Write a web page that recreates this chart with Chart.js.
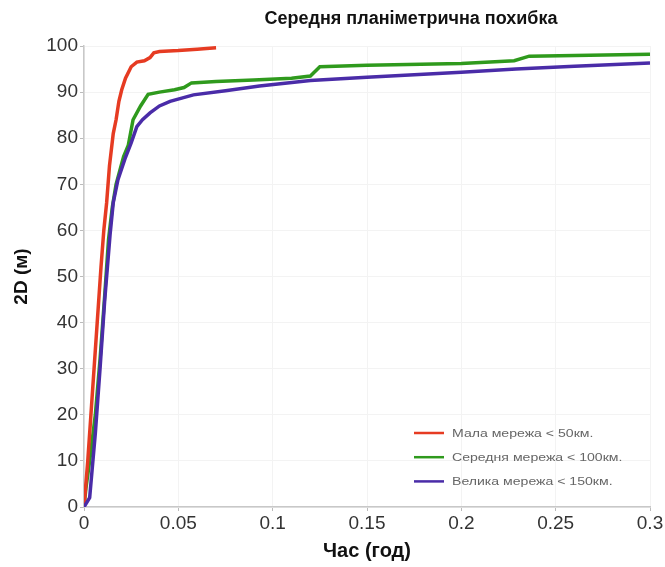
<!DOCTYPE html>
<html>
<head>
<meta charset="utf-8">
<script src="https://cdn.jsdelivr.net/npm/chart.js@4"></script>
<style>
  html, body { margin: 0; padding: 0; background: #fff; }
  #wrap { width: 665px; height: 567px; }
</style>
</head>
<body>
<div id="wrap"><canvas id="c" width="665" height="567"></canvas></div>
<script>
// дані
const seriesNames = ['Мала мережа < 50км.', 'Середня мережа < 100км.', 'Велика мережа < 150км.'];
const seriesColors = ['#e63b22', '#2f9a1d', '#4a2ca8'];

const redX = [0, 0.001, 0.002, 0.004, 0.007, 0.009, 0.0105, 0.012, 0.0135, 0.0155, 0.017, 0.0185, 0.020, 0.022, 0.025, 0.028, 0.032, 0.035, 0.037, 0.040, 0.050, 0.060, 0.070];
const redY = [0, 5, 10, 22, 40, 52, 60, 66, 74, 81, 84, 88, 90.5, 93, 95.5, 96.5, 96.8, 97.5, 98.5, 98.8, 99, 99.3, 99.6];

const greenX = [0, 0.001, 0.003, 0.006, 0.0085, 0.011, 0.013, 0.015, 0.017, 0.019, 0.021, 0.0235, 0.026, 0.030, 0.034, 0.040, 0.048, 0.053, 0.057, 0.070, 0.090, 0.110, 0.120, 0.125, 0.150, 0.200, 0.228, 0.236, 0.300];
const greenY = [0, 4, 10, 20, 32, 46, 58, 65, 70, 73, 76, 78.5, 84, 87, 89.5, 90, 90.5, 91, 92, 92.3, 92.6, 93, 93.5, 95.5, 95.8, 96.2, 96.8, 97.8, 98.2];

const blueX = [0, 0.003, 0.006, 0.0085, 0.011, 0.0138, 0.0155, 0.018, 0.0217, 0.025, 0.028, 0.031, 0.035, 0.040, 0.0456, 0.058, 0.075, 0.093, 0.120, 0.150, 0.200, 0.229, 0.260, 0.300];
const blueY = [0, 2, 16, 30, 45, 59, 66, 71, 75.5, 79, 82.5, 84, 85.5, 87, 88, 89.4, 90.3, 91.3, 92.5, 93.2, 94.3, 95, 95.6, 96.3];

const xTicks = [0, 0.05, 0.1, 0.15, 0.2, 0.25, 0.3];
const yTicks = [0, 10, 20, 30, 40, 50, 60, 70, 80, 90, 100];

function toPoints(xs, ys) {
  return xs.map((x, i) => ({ x: x, y: ys[i] }));
}

// заголовок і легенда всередині області графіка
const extras = {
  id: 'extras',
  afterDraw(chart) {
    const ctx = chart.ctx;
    ctx.save();
    ctx.fillStyle = '#111';
    ctx.font = 'bold 18px "Liberation Sans", Arial, sans-serif';
    ctx.textAlign = 'center';
    ctx.textBaseline = 'middle';
    ctx.fillText('Середня планіметрична похибка', 411, 19);

    ctx.font = '11px "Liberation Sans", Arial, sans-serif';
    ctx.textAlign = 'left';
    seriesNames.forEach((name, i) => {
      const y = 433 + i * 24.2;
      ctx.strokeStyle = seriesColors[i];
      ctx.lineWidth = 2.5;
      ctx.beginPath();
      ctx.moveTo(414, y);
      ctx.lineTo(444, y);
      ctx.stroke();
      ctx.fillStyle = '#666';
      // текст легенди трохи розтягнутий по горизонталі, як на оригіналі
      ctx.save();
      ctx.translate(452, y + 1);
      ctx.scale(1.28, 1);
      ctx.fillText(name, 0, 0);
      ctx.restore();
    });
    ctx.restore();
  }
};

const ctx = document.getElementById('c').getContext('2d');
new Chart(ctx, {
  type: 'line',
  data: {
    datasets: [
      { label: seriesNames[0], data: toPoints(redX, redY), borderColor: seriesColors[0], order: 2 },
      { label: seriesNames[1], data: toPoints(greenX, greenY), borderColor: seriesColors[1], order: 3 },
      { label: seriesNames[2], data: toPoints(blueX, blueY), borderColor: seriesColors[2], order: 1 }
    ]
  },
  options: {
    responsive: false,
    animation: false,
    elements: {
      point: { radius: 0 },
      line: { borderWidth: 3.5, tension: 0, fill: false }
    },
    layout: { padding: { top: 46, right: 15, left: 4, bottom: 4 } },
    plugins: {
      legend: { display: false },
      title: { display: false },
      tooltip: { enabled: false }
    },
    scales: {
      x: {
        type: 'linear',
        min: 0,
        max: 0.3,
        afterBuildTicks: axis => { axis.ticks = xTicks.map(v => ({ value: v })); },
        afterFit: axis => { axis.height = 56; },
        ticks: {
          color: '#333',
          font: { size: 19, family: '"Liberation Sans", Arial, sans-serif' },
          maxRotation: 0,
          padding: 1,
          callback: v => String(v)
        },
        grid: { color: '#f3f3f3', tickColor: '#bbb', tickLength: 4 },
        border: { color: '#c8c8c8', width: 1.5 },
        title: {
          display: true,
          text: 'Час (год)',
          color: '#111',
          font: { size: 20, weight: 'bold', family: '"Liberation Sans", Arial, sans-serif' },
          padding: { top: 0, bottom: 0 }
        }
      },
      y: {
        type: 'linear',
        min: 0,
        max: 100,
        afterBuildTicks: axis => { axis.ticks = yTicks.map(v => ({ value: v })); },
        afterFit: axis => { axis.width = 80; },
        ticks: {
          color: '#333',
          font: { size: 19, family: '"Liberation Sans", Arial, sans-serif' },
          padding: 2
        },
        grid: { color: '#f3f3f3', tickColor: '#bbb', tickLength: 4 },
        border: { color: '#c8c8c8', width: 1.5 },
        title: {
          display: true,
          text: '2D (м)',
          color: '#111',
          font: { size: 19, weight: 'bold', family: '"Liberation Sans", Arial, sans-serif' },
          padding: { top: 6, bottom: 0 }
        }
      }
    }
  },
  plugins: [extras]
});
</script>
</body>
</html>
